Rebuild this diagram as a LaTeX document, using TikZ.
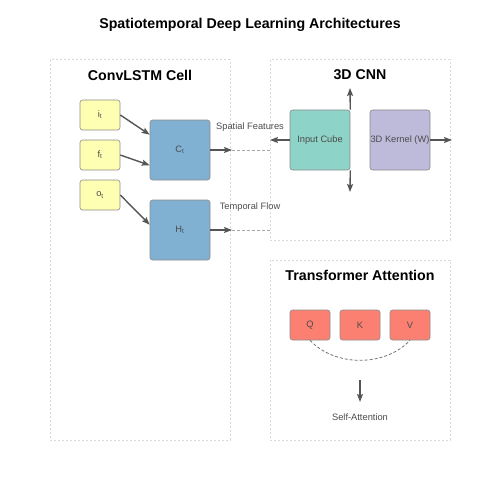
\documentclass[tikz,border=0pt]{standalone}
\usepackage{fontspec}
\setmainfont{Liberation Sans}
\usetikzlibrary{arrows.meta}

\definecolor{gatefill}{HTML}{FFFFB3}
\definecolor{cellfill}{HTML}{80B1D3}
\definecolor{cubefill}{HTML}{8DD3C7}
\definecolor{kernfill}{HTML}{BEBADA}
\definecolor{attnfill}{HTML}{FB8072}
\definecolor{linegray}{HTML}{555555}

\begin{document}
\begin{tikzpicture}[x=1pt, y=-1pt,
    panel/.style={draw=black!15, dash pattern=on 2pt off 2pt, line width=1pt},
    ptitle/.style={font=\fontsize{14.2}{16}\selectfont\bfseries},
    box/.style={draw=black!45, rounded corners=2.5pt, line width=0.6pt,
                font=\fontsize{9.3}{11}\selectfont, text=black!70},
    lab/.style={font=\fontsize{9.3}{11}\selectfont, text=black!70},
    arr/.style={-{Stealth[length=8pt,width=6pt,inset=1.5pt]}, draw=linegray, line width=1.4pt},
    link/.style={draw=black!35, dash pattern=on 3pt off 2pt, line width=1pt}]
  \useasboundingbox (0,0) rectangle (500,500);

  \node[font=\fontsize{14.2}{17}\selectfont\bfseries] (title) at (250,25)
    {Spatiotemporal Deep Learning Architectures};

  % panels
  \draw[panel] (50,60) rectangle (230,440);
  \draw[panel] (270,60) rectangle (450,240);
  \draw[panel] (270,260) rectangle (450,440);
  \node[ptitle] (t1) at (140,75) {ConvLSTM Cell};
  \node[ptitle] (t2) at (360,75) {3D CNN};
  \node[ptitle] (t3) at (360,275) {Transformer Attention};

  % ConvLSTM gates and states
  \node[box, fill=gatefill, minimum width=40pt, minimum height=30pt] (i) at (100,115) {i\textsubscript{t}};
  \node[box, fill=gatefill, minimum width=40pt, minimum height=30pt] (f) at (100,155) {f\textsubscript{t}};
  \node[box, fill=gatefill, minimum width=40pt, minimum height=30pt] (o) at (100,195) {o\textsubscript{t}};
  \node[box, fill=cellfill, minimum width=60pt, minimum height=60pt] (c) at (180,150) {C\textsubscript{t}};
  \node[box, fill=cellfill, minimum width=60pt, minimum height=60pt] (h) at (180,230) {H\textsubscript{t}};

  \draw[arr] (i.east) -- ([yshift=-15pt]c.north west);
  \draw[arr] (f.east) -- ([yshift=15pt]c.south west);
  \draw[arr] (o.east) -- ([yshift=-25pt]h.north west);

  % 3D CNN
  \node[box, fill=cubefill, minimum width=60pt, minimum height=60pt] (cube) at (320,140) {Input Cube};
  \node[box, fill=kernfill, minimum width=60pt, minimum height=60pt, inner sep=0pt] (kern) at (400,140) {3D Kernel (W)};
  \coordinate (cl) at (270,140);
  \coordinate (cu) at (350,88);
  \coordinate (cd) at (350,192);
  \coordinate (kr) at (452,140);
  \draw[arr] (cube.west) -- (cl);
  \draw[arr] (cube.north east) -- (cu);
  \draw[arr] (cube.south east) -- (cd);
  \draw[arr] (kern.east) -- (kr);

  % links between panels
  \coordinate (ca) at (232,150);
  \coordinate (ce) at (270,150);
  \coordinate (ha) at (232,230);
  \coordinate (he) at (270,230);
  \draw[arr] (c.east) -- (ca);
  \draw[arr] (h.east) -- (ha);
  \draw[link] (ca) -- (ce);
  \draw[link] (ha) -- (he);
  \node[lab] (sf) at (250,127) {Spatial Features};
  \node[lab] (tf) at (250,207) {Temporal Flow};

  % attention
  \foreach \n/\x in {q/310, k/360, v/410} {
    \node[box, fill=attnfill, minimum width=40pt, minimum height=30pt] (\n) at (\x,325) {\MakeUppercase{\n}};
  }
  \draw[link, black!55, line width=0.8pt] (q.south) .. controls (335,367) and (385,367) .. (v.south);
  \coordinate (sa0) at (360,380);
  \coordinate (sa1) at (360,402);
  \draw[arr] (sa0) -- (sa1);
  \node[lab] (sa) at (360,417) {Self-Attention};
\end{tikzpicture}
\end{document}
